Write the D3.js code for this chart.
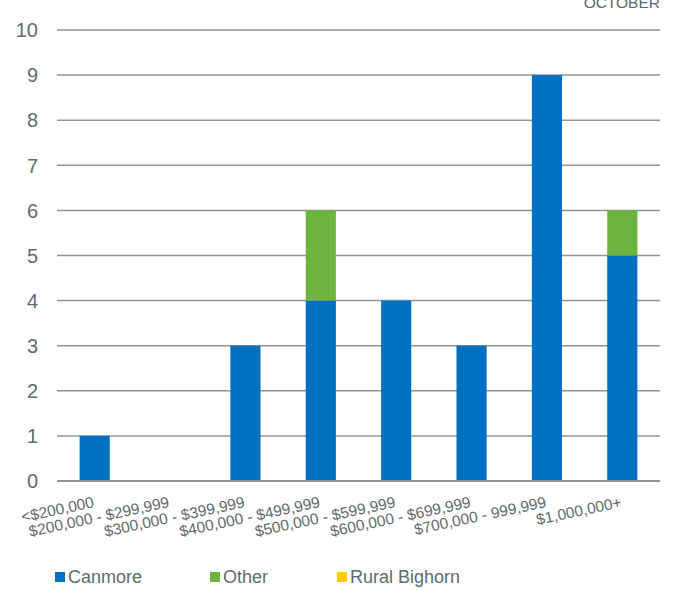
<!DOCTYPE html>
<meta charset="utf-8">
<style>
  body { margin: 0; background: #fff; }
  svg { display: block; font-family: "Liberation Sans", Arial, sans-serif; }
  .tick-label { fill: #5f6a6a; font-size: 20px; }
  .cat-label { fill: #5f6a6a; font-size: 15.5px; }
  .title { fill: #5f6a6a; font-size: 15.5px; }
  .legend text { fill: #5f6a6a; font-size: 18px; }
  .grid line { stroke: #8e9694; stroke-width: 1.5px; }
</style>
<body>
<script src="https://cdn.jsdelivr.net/npm/d3@7"></script>
<script>

  // data
  var categories = ["<$200,000", "$200,000 - $299,999", "$300,000 - $399,999", "$400,000 - $499,999",
                    "$500,000 - $599,999", "$600,000 - $699,999", "$700,000 - 999,999", "$1,000,000+"];
  var canmore = [1, 0, 3, 4, 4, 3, 9, 5];
  var other = [0, 0, 0, 2, 0, 0, 0, 1];
  var ruralBighorn = [0, 0, 0, 0, 0, 0, 0, 0];
  var seriesNames = ["Canmore", "Other", "Rural Bighorn"];
  var yTicks = [0, 1, 2, 3, 4, 5, 6, 7, 8, 9, 10];
  var colors = ["#0070c0", "#6db33f", "#ffcc00"];

  var margin = {top: 30, right: 14, bottom: 109, left: 57};
  var width = 674 - margin.left - margin.right;
  var height = 590 - margin.top - margin.bottom;

  var svg = d3.select("body").append("svg")
      .attr("width", 674)
      .attr("height", 590);

  // title, partly cut off at the top like the original
  svg.append("text")
      .attr("x", 660)
      .attr("y", 8)
      .attr("text-anchor", "end")
      .attr("class", "title")
      .text("OCTOBER");

  var g = svg.append("g")
      .attr("transform", "translate(" + margin.left + "," + margin.top + ")");

  var x = d3.scaleBand().domain(categories).range([0, width]).paddingInner(0.6).paddingOuter(0.3);
  var y = d3.scaleLinear().domain([0, 10]).range([height, 0]);

  // grid lines
  g.append("g")
      .attr("class", "grid")
      .selectAll("line")
      .data(yTicks.slice(1))
      .enter().append("line")
      .attr("x1", 0)
      .attr("x2", width)
      .attr("y1", function(d) { return y(d); })
      .attr("y2", function(d) { return y(d); });

  // y labels
  g.selectAll(".tick-label")
      .data(yTicks)
      .enter().append("text")
      .attr("class", "tick-label")
      .attr("x", -19)
      .attr("y", function(d) { return y(d); })
      .attr("dy", "0.36em")
      .attr("text-anchor", "end")
      .text(function(d) { return d; });

  // stacked bars
  var rows = categories.map(function(c, i) {
    return {cat: c, Canmore: canmore[i], Other: other[i], "Rural Bighorn": ruralBighorn[i]};
  });
  var stack = d3.stack().keys(seriesNames)(rows);

  g.selectAll(".series")
      .data(stack)
      .enter().append("g")
      .attr("fill", function(d, i) { return colors[i]; })
      .selectAll("rect")
      .data(function(d) { return d; })
      .enter().append("rect")
      .attr("x", function(d) { return x(d.data.cat); })
      .attr("width", x.bandwidth())
      .attr("y", function(d) { return y(d[1]); })
      .attr("height", function(d) { return y(d[0]) - y(d[1]); });

  // baseline
  g.append("line")
      .attr("x1", 0)
      .attr("x2", width)
      .attr("y1", height)
      .attr("y2", height)
      .attr("stroke", "#8e9694")
      .attr("stroke-width", 2);

  // category labels
  g.selectAll(".cat-label")
      .data(categories)
      .enter().append("text")
      .attr("class", "cat-label")
      .attr("text-anchor", "end")
      .attr("transform", function(d) {
        var cx = x(d) + x.bandwidth() / 2;
        return "translate(" + cx + "," + (height + 26) + ") rotate(-12)";
      })
      .text(function(d) { return d; });

  // legend
  var legendX = [55, 210, 337];
  var legend = svg.append("g").attr("class", "legend");
  seriesNames.forEach(function(name, i) {
    legend.append("rect")
        .attr("x", legendX[i])
        .attr("y", 572)
        .attr("width", 10)
        .attr("height", 10)
        .attr("fill", colors[i]);
    legend.append("text")
        .attr("x", legendX[i] + 13)
        .attr("y", 583)
        .text(name);
  });

</script>
</body>
